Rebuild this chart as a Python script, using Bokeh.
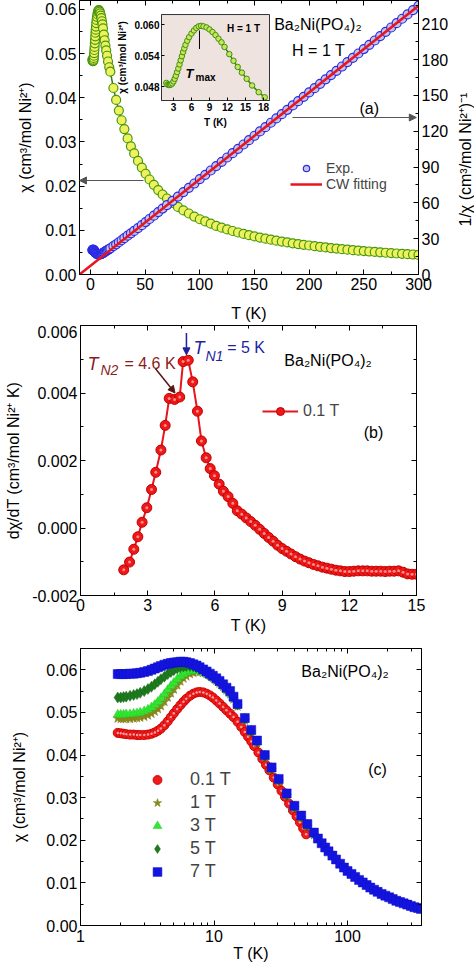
import math
from bokeh.plotting import figure
from bokeh.models import (Range1d, LinearAxis, LogAxis, FixedTicker, Legend, LegendItem,
                          Arrow, NormalHead, Label, CustomJSTickFormatter, BasicTickFormatter,
                          PrintfTickFormatter)
from bokeh.layouts import column, row
from bokeh.embed import file_html
from bokeh.resources import INLINE
from bokeh.core.properties import value

FONT = "Liberation Sans"

# ---------------- panel (a) data ----------------
T_low = [1.8, 2.0, 2.2, 2.4, 2.6, 2.8, 3.0, 3.2, 3.4, 3.6,
         3.8, 4.0, 4.2, 4.4, 4.6, 4.8, 5.0, 5.3, 5.6, 6.0,
         6.4, 6.8, 7.2, 7.6, 8.0, 8.5, 9.0, 9.5, 10.0, 10.5,
         11.0, 11.5, 12.3, 13.0, 13.7, 14.4, 15.2, 16.1, 17.2, 18.2]
chi_low = [0.0487, 0.0484, 0.0483, 0.0483, 0.0484, 0.0486, 0.0490, 0.0495, 0.0501, 0.0508,
           0.0515, 0.0523, 0.0531, 0.0539, 0.0547, 0.0554, 0.0561, 0.0569, 0.0576, 0.0583,
           0.0589, 0.0594, 0.0597, 0.0598, 0.0597, 0.0595, 0.0591, 0.0586, 0.0580, 0.0573,
           0.0566, 0.0557, 0.0543, 0.0530, 0.0518, 0.0507, 0.0495, 0.0482, 0.0469, 0.0459]
inv_low = [20.5, 20.7, 20.7, 20.7, 20.7, 20.6, 20.4, 20.2, 20.0, 19.7,
           19.4, 19.1, 18.8, 18.6, 18.3, 18.1, 17.8, 17.6, 17.4, 17.2,
           17.0, 16.8, 16.8, 16.7, 16.8, 16.8, 16.9, 17.1, 17.2, 17.5,
           17.7, 18.0, 18.4, 18.9, 19.3, 19.7, 20.2, 20.7, 21.3, 21.8]
T_high = [21, 23.5, 26, 28.5, 31, 34, 37, 40, 43.5, 47, 50.5, 54, 58, 62, 66,
          70, 75, 80, 85, 90, 95, 100, 105, 110, 115,
          120, 125, 130, 135, 140, 145, 150, 155, 160, 165,
          170, 175, 180, 185, 190, 195, 200, 205, 210, 215,
          220, 225, 230, 235, 240, 245, 250, 255, 260, 265,
          270, 275, 280, 285, 290, 295, 300]
chi_high = [0.0422, 0.0395, 0.0371, 0.0349, 0.0329, 0.0308, 0.0290, 0.0274, 0.0257, 0.0242,
            0.0228, 0.0215, 0.0203, 0.0191, 0.0181,
            0.0172, 0.0162, 0.0153, 0.0145, 0.0138, 0.0131, 0.0125, 0.0120, 0.0115, 0.0110,
            0.0106, 0.0102, 0.00984, 0.00950, 0.00918, 0.00889, 0.00861, 0.00835, 0.00810, 0.00787,
            0.00765, 0.00745, 0.00725, 0.00706, 0.00689, 0.00672, 0.00656, 0.00641, 0.00626, 0.00612,
            0.00599, 0.00586, 0.00574, 0.00562, 0.00551, 0.00540, 0.00530, 0.00520, 0.00510, 0.00501,
            0.00492, 0.00483, 0.00475, 0.00467, 0.00459, 0.00452, 0.00444]
inv_high = [23.7, 25.3, 27.0, 28.7, 30.4, 32.5, 34.5, 36.5, 38.9, 41.3, 43.9, 46.5, 49.3, 52.3, 55.2,
            58.1, 61.7, 65.3, 69.0, 72.6, 76.2, 79.9, 83.5, 87.1, 90.8,
            94.4, 98.0, 101.6, 105.3, 108.9, 112.5, 116.2, 119.8, 123.4, 127.1,
            130.7, 134.3, 137.9, 141.6, 145.2, 148.8, 152.5, 156.1, 159.7, 163.4,
            167.0, 170.6, 174.2, 177.9, 181.5, 185.1, 188.8, 192.4, 196.0, 199.7,
            203.3, 206.9, 210.5, 214.2, 217.8, 221.4, 225.1]
cw_T = [-10, 300]
cw_inv = [0, 225.1]

a_xticks = [0, 50, 100, 150, 200, 250, 300]
a_xminor = [25, 75, 125, 175, 225, 275]
a_yticks = [0.0, 0.01, 0.02, 0.03, 0.04, 0.05, 0.06]
a_yminor = [0.005, 0.015, 0.025, 0.035, 0.045, 0.055]
a_rticks = [0, 30, 60, 90, 120, 150, 180, 210]
a_rminor = [15, 45, 75, 105, 135, 165, 195, 225]
in_xticks = [3, 6, 9, 12, 15, 18]
in_xminor = [1.5, 4.5, 7.5, 10.5, 13.5, 16.5]
in_yticks = [0.048, 0.054, 0.060]
in_yminor = [0.051, 0.057]
in_x0, in_x1, in_y0, in_y1 = 1.0, 19.0, 0.04528, 0.0620

# ---------------- panel (b) data ----------------
Tb = [1.93, 2.19, 2.38, 2.56, 2.75, 2.96, 3.17, 3.36, 3.59, 3.78,
      3.96, 4.20, 4.43, 4.58, 4.81, 5.01, 5.22, 5.40, 5.61, 5.79,
      5.98, 6.19, 6.38, 6.59, 6.80,
      7.0, 7.2, 7.4, 7.6, 7.8, 8.0, 8.2, 8.4, 8.6, 8.8,
      9.0, 9.2, 9.4, 9.6, 9.8, 10.0, 10.2, 10.4, 10.6, 10.8,
      11.0, 11.2, 11.4, 11.6, 11.8, 12.0, 12.2, 12.4, 12.6, 12.8,
      13.0, 13.2, 13.4, 13.6, 13.8, 14.0, 14.2, 14.4, 14.6, 14.8, 15.0]
dchi = [-0.00124, -0.00101, -0.00063, -0.00026, 0.00017, 0.00060, 0.00114, 0.00165, 0.00231, 0.00304,
        0.00384, 0.00381, 0.00388, 0.00493, 0.00497, 0.00433, 0.00346, 0.00258, 0.00208, 0.00176,
        0.00155, 0.00130, 0.00109, 0.00093, 0.00073,
        0.00051, 0.00041, 0.00030, 0.00019, 0.00008, -0.00004, -0.00016, -0.00028, -0.00039, -0.00051,
        -0.00061, -0.00069, -0.00077, -0.00085, -0.00092, -0.00098, -0.00103, -0.00108, -0.00112, -0.00116,
        -0.00119, -0.00122, -0.00125, -0.00127, -0.00129, -0.00129, -0.00128, -0.00127, -0.00127, -0.00127,
        -0.00128, -0.00128, -0.00128, -0.00129, -0.00128, -0.00128, -0.00127, -0.00131, -0.00136, -0.00137, -0.00137]
b_xticks = [0, 3, 6, 9, 12, 15]
b_xminor = [1.5, 4.5, 7.5, 10.5, 13.5]
b_yticks = [-0.002, 0.0, 0.002, 0.004, 0.006]
b_yminor = [-0.001, 0.001, 0.003, 0.005]

# ---------------- panel (c) data ----------------
Tc_low = [1.9, 2.0, 2.1, 2.2, 2.35, 2.5, 2.65, 2.8, 3.0, 3.2,
          3.4, 3.6, 3.8, 4.0, 4.25, 4.5, 4.75, 5.0, 5.3, 5.6,
          5.9, 6.2, 6.6, 7.0, 7.4, 7.8, 8.3, 8.8, 9.3, 9.8,
          10.4, 11.0, 11.7, 12.4, 13.2]
T01_high = [14, 15, 16, 17, 18, 19, 20, 21.5, 23, 24.5, 26, 28, 30, 32, 34, 36.5, 39, 41.5, 44, 46.5, 49]
T_mid = [14, 15, 17, 19, 21, 24, 27, 30.5, 35, 40, 45, 50, 56]
T7_high = [14, 15, 17, 19, 21, 24, 27, 30.5, 35, 40,
           45, 50, 56, 60, 64, 68, 72, 77, 82, 88,
           94, 100, 107, 114, 122, 130, 139, 148, 158, 168,
           180, 192, 205, 218, 232, 247, 263, 280, 298, 317,
           337, 355]
c01_low = [0.0452, 0.0451, 0.0450, 0.0449, 0.0448, 0.0448, 0.0447, 0.0447, 0.0447, 0.0448,
           0.0450, 0.0453, 0.0457, 0.0462, 0.0470, 0.0479, 0.0489, 0.0498, 0.0508, 0.0517,
           0.0525, 0.0532, 0.0539, 0.0544, 0.0547, 0.0548, 0.0547, 0.0544, 0.0540, 0.0535,
           0.0528, 0.0521, 0.0513, 0.0505, 0.0497]
c01_high = [0.0489, 0.0478, 0.0466, 0.0454, 0.0443, 0.0432, 0.0421, 0.0406, 0.0391, 0.0377,
            0.0364, 0.0347, 0.0331, 0.0316, 0.0302, 0.0286, 0.0270, 0.0256, 0.0242, 0.0228, 0.0214]
c1_low = [0.0486, 0.0485, 0.0485, 0.0485, 0.0485, 0.0486, 0.0487, 0.0488, 0.0490, 0.0493,
          0.0497, 0.0502, 0.0508, 0.0515, 0.0525, 0.0535, 0.0545, 0.0554, 0.0564, 0.0573,
          0.0580, 0.0585, 0.0590, 0.0593, 0.0595, 0.0595, 0.0593, 0.0590, 0.0586, 0.0581,
          0.0575, 0.0568, 0.0560, 0.0552, 0.0543]
c1_high = [0.0531, 0.0514, 0.0481, 0.0453, 0.0428, 0.0394, 0.0365, 0.0338, 0.0304, 0.0275, 0.0252, 0.0232, 0.0212]
c3_low = [0.0495, 0.0495, 0.0495, 0.0496, 0.0496, 0.0497, 0.0498, 0.0500, 0.0503, 0.0507,
          0.0512, 0.0518, 0.0525, 0.0533, 0.0543, 0.0553, 0.0562, 0.0570, 0.0578, 0.0585,
          0.0590, 0.0594, 0.0597, 0.0598, 0.0598, 0.0597, 0.0594, 0.0590, 0.0586, 0.0581,
          0.0575, 0.0569, 0.0561, 0.0553, 0.0544]
c3_high = [0.0533, 0.0516, 0.0483, 0.0455, 0.0430, 0.0396, 0.0367, 0.0340, 0.0306, 0.0277, 0.0254, 0.0234, 0.0214]
c5_low = [0.0535, 0.0535, 0.0536, 0.0537, 0.0539, 0.0541, 0.0543, 0.0546, 0.0550, 0.0555,
          0.0560, 0.0566, 0.0572, 0.0578, 0.0584, 0.0590, 0.0595, 0.0599, 0.0603, 0.0606,
          0.0608, 0.0609, 0.0609, 0.0608, 0.0606, 0.0603, 0.0599, 0.0594, 0.0590, 0.0585,
          0.0579, 0.0573, 0.0565, 0.0557, 0.0548]
c5_high = [0.0535, 0.0518, 0.0485, 0.0457, 0.0432, 0.0398, 0.0369, 0.0342, 0.0308, 0.0279, 0.0256, 0.0236, 0.0216]
c7_low = [0.0590, 0.0590, 0.0590, 0.0590, 0.0591, 0.0591, 0.0592, 0.0593, 0.0595, 0.0597,
          0.0600, 0.0603, 0.0606, 0.0609, 0.0612, 0.0614, 0.0616, 0.0617, 0.0618, 0.0619,
          0.0619, 0.0618, 0.0616, 0.0613, 0.0610, 0.0606, 0.0601, 0.0596, 0.0591, 0.0586,
          0.0580, 0.0574, 0.0566, 0.0558, 0.0550]
c7_high = [0.0537, 0.0520, 0.0487, 0.0459, 0.0434, 0.0400, 0.0371, 0.0344, 0.0310, 0.0281,
           0.0258, 0.0238, 0.0218, 0.0204, 0.0193, 0.0183, 0.0174, 0.0164, 0.0155, 0.0145,
           0.0136, 0.0128, 0.0121, 0.0114, 0.0107, 0.0101, 0.0095, 0.0089, 0.0084, 0.0079,
           0.0074, 0.0070, 0.0066, 0.0062, 0.0058, 0.0055, 0.0052, 0.0049, 0.0046, 0.0043,
           0.0041, 0.0039]
c_xticks = [1, 10, 100]
c_xminor = [2, 3, 4, 5, 6, 7, 8, 9, 20, 30, 40, 50, 60, 70, 80, 90, 200, 300]
c_yticks = [0.0, 0.01, 0.02, 0.03, 0.04, 0.05, 0.06]
c_yminor = [0.005, 0.015, 0.025, 0.035, 0.045, 0.055]


# ---------------- helpers ----------------
def style_axis(ax):
    ax.major_label_text_font = FONT
    ax.major_label_text_font_size = "16px"
    ax.major_label_text_color = "black"
    ax.axis_label_text_font = FONT
    ax.axis_label_text_font_size = "16px"
    ax.axis_label_text_font_style = "normal"
    ax.axis_label_text_color = "black"
    ax.axis_line_color = "black"
    ax.major_tick_line_color = "black"
    ax.minor_tick_line_color = "black"
    ax.major_tick_in = 5
    ax.major_tick_out = 0
    ax.minor_tick_in = 3
    ax.minor_tick_out = 0
    ax.major_label_standoff = 4
    ax.axis_label_standoff = 4


def style_inset(ax):
    style_axis(ax)
    ax.major_label_text_font_size = "10px"
    ax.major_label_text_font_style = "bold"
    ax.axis_label_text_font_size = "10px"
    ax.axis_label_text_font_style = "bold"
    ax.major_tick_in = 3
    ax.minor_tick_in = 0
    ax.major_label_standoff = 2
    ax.axis_label_standoff = 3
    ax.axis_line_color = "#333333"


def blank_axis(p, side, ticker, log=False, **kw):
    cls = LogAxis if log else LinearAxis
    ax = cls(ticker=ticker, formatter=CustomJSTickFormatter(code="return ''"), **kw)
    style_axis(ax)
    ax.major_label_text_font_size = "0px"
    ax.major_label_standoff = 0
    p.add_layout(ax, side)
    return ax


def base_fig(**kw):
    p = figure(output_backend="svg", toolbar_location=None, **kw)
    p.grid.visible = False
    p.outline_line_color = "black"
    p.outline_line_width = 1
    p.background_fill_color = "white"
    p.border_fill_color = "white"
    return p


def add_label(p, x, y, text, size="16px", color="black", style="normal",
              align="center", baseline="middle", **kw):
    p.add_layout(Label(x=x, y=y, text=text, text_font=FONT, text_font_size=size,
                       text_color=color, text_font_style=style, text_align=align,
                       text_baseline=baseline, **kw))


# ================= panel (a) =================
A_BOTTOM = 51
pa = base_fig(frame_width=339, frame_height=274, x_range=Range1d(-10, 300), y_range=Range1d(0, 0.0620),
              min_border_left=79, min_border_right=38, min_border_top=0, min_border_bottom=A_BOTTOM,
              x_axis_label="T (K)", y_axis_label="χ (cm³/mol Ni²⁺)")
inv_range = Range1d(0, 229.5)
pa.extra_y_ranges = {"inv": inv_range, "iy": Range1d(0.01144, 0.06473)}
pa.extra_x_ranges = {"ix": Range1d(-12.667, 43.833)}
ax_ab = pa.below[0]
ax_al = pa.left[0]
ax_ab.ticker = FixedTicker(ticks=a_xticks, minor_ticks=a_xminor)
ax_al.ticker = FixedTicker(ticks=a_yticks, minor_ticks=a_yminor)
ax_al.formatter = PrintfTickFormatter(format="%.2f")
style_axis(ax_ab)
style_axis(ax_al)
ax_al.major_label_standoff = 3
ax_al.axis_label_standoff = 8
ax_ab.major_label_standoff = 3
ax_ab.axis_label_standoff = 12

ax_ar = LinearAxis(y_range_name="inv", ticker=FixedTicker(ticks=a_rticks, minor_ticks=a_rminor))
style_axis(ax_ar)
ax_ar.major_label_standoff = 3
pa.add_layout(ax_ar, "right")
blank_axis(pa, "above", FixedTicker(ticks=a_xticks, minor_ticks=a_xminor))

T_all = T_low + T_high
chi_all = chi_low + chi_high
inv_all = inv_low + inv_high

pa.line(T_all, chi_all, line_color="#2f7f16", line_width=1.5)
pa.scatter(T_all, chi_all, size=9, fill_color="#eef25c", line_color="#4a9612", line_width=1.2)
r_exp = pa.scatter(T_all, inv_all, y_range_name="inv", size=9, fill_color="#c4c3e4",
                   line_color="#2a2ae6", line_width=1.2)
r_cw = pa.line(cw_T, cw_inv, y_range_name="inv", line_color="#e8141e", line_width=2.5)

leg_a = Legend(items=[LegendItem(label="Exp.", renderers=[r_exp]),
                      LegendItem(label="CW fitting", renderers=[r_cw])],
               location=(211, 82), glyph_width=32, glyph_height=16, label_height=16,
               spacing=0, padding=0, margin=0, label_standoff=4,
               label_text_font=FONT, label_text_font_size="14px",
               border_line_color=None, background_fill_alpha=0)
pa.add_layout(leg_a)

add_label(pa, 208, 0.0566, "Ba₂Ni(PO₄)₂")
add_label(pa, 208.6, 0.0507, "H = 1 T")
add_label(pa, 255, 0.0376, "(a)")

pa.add_layout(Arrow(x_start=48.5, y_start=0.02127, x_end=-10, y_end=0.02127,
                    line_color="#555555", line_width=1.2,
                    end=NormalHead(size=7, fill_color="#555555", line_color="#555555")))
pa.add_layout(Arrow(x_start=184.8, y_start=131.5, x_end=298, y_end=131.5, y_range_name="inv",
                    line_color="#555555", line_width=1.2,
                    end=NormalHead(size=7, fill_color="#555555", line_color="#555555")))

# inset
pa.quad(left=[in_x0], right=[in_x1], bottom=[in_y0], top=[in_y1], x_range_name="ix", y_range_name="iy",
        fill_color="#efe3df", line_color="#333333", line_width=1)
pa.line(T_low, chi_low, x_range_name="ix", y_range_name="iy", line_color="#2f7f16", line_width=1.5)
pa.scatter(T_low, chi_low, x_range_name="ix", y_range_name="iy", size=5.5,
           fill_color="#c9e55a", line_color="#3f8f12", line_width=1)
iax_y = LinearAxis(x_range_name="ix", y_range_name="iy", fixed_location=in_x0, bounds=(in_y0, in_y1),
                   ticker=FixedTicker(ticks=in_yticks, minor_ticks=in_yminor),
                   formatter=PrintfTickFormatter(format="%.3f"),
                   axis_label="χ (cm³/mol Ni²⁺)")
style_inset(iax_y)
pa.add_layout(iax_y, "left")
iax_x = LinearAxis(x_range_name="ix", y_range_name="iy", fixed_location=in_y0, bounds=(in_x0, in_x1),
                   ticker=FixedTicker(ticks=in_xticks, minor_ticks=in_xminor), axis_label="T (K)")
style_inset(iax_x)
pa.add_layout(iax_x, "below")
add_label(pa, 14.67, 0.05934, "H = 1 T", size="10px", style="bold", x_range_name="ix", y_range_name="iy")
add_label(pa, 5.0, 0.05047, "T", size="13px", style="bold italic", align="left", baseline="alphabetic",
          x_range_name="ix", y_range_name="iy")
add_label(pa, 6.67, 0.04981, "max", size="10px", style="bold", align="left", baseline="alphabetic",
          x_range_name="ix", y_range_name="iy")
pa.add_layout(Arrow(x_start=7.33, y_start=0.0553, x_end=7.33, y_end=0.0589, end=None,
                    x_range_name="ix", y_range_name="iy", line_color="black", line_width=1))

# right-hand axis title of panel (a), reading bottom-to-top, in a narrow strip
lab = figure(output_backend="svg", toolbar_location=None, frame_width=18, frame_height=274,
             x_range=Range1d(0, 1), y_range=inv_range, x_axis_location=None, y_axis_location=None,
             min_border_left=0, min_border_right=0, min_border_top=0, min_border_bottom=A_BOTTOM)
lab.grid.visible = False
lab.outline_line_color = None
lab.text(x=[0.5], y=[96.3], text=["1/χ (cm³/mol Ni²⁺)⁻¹"], angle=math.pi / 2,
         text_align="center", text_baseline="middle", text_font=value(FONT),
         text_font_size="16px", text_color="black")

# ================= panel (b) =================
pb = base_fig(frame_width=336, frame_height=270, x_range=Range1d(0, 15), y_range=Range1d(-0.002, 0.006),
              min_border_left=80, min_border_right=50, min_border_top=0, min_border_bottom=42,
              x_axis_label="T (K)", y_axis_label="dχ/dT (cm³/mol Ni²⁺ K)")
ax_bb = pb.below[0]
ax_bl = pb.left[0]
ax_bb.ticker = FixedTicker(ticks=b_xticks, minor_ticks=b_xminor)
ax_bl.ticker = FixedTicker(ticks=b_yticks, minor_ticks=b_yminor)
ax_bl.formatter = PrintfTickFormatter(format="%.3f")
style_axis(ax_bb)
style_axis(ax_bl)
ax_bl.major_label_standoff = 3
ax_bl.axis_label_standoff = 7
ax_bb.major_label_standoff = 3
ax_bb.axis_label_standoff = 3
blank_axis(pb, "above", FixedTicker(ticks=b_xticks, minor_ticks=b_xminor))
blank_axis(pb, "right", FixedTicker(ticks=b_yticks, minor_ticks=b_yminor))

rb_line = pb.line(Tb, dchi, line_color="#e8141e", line_width=2)
rb_pts = pb.scatter(Tb, dchi, size=10, fill_color="#ee1818", line_color="#c00000", line_width=1)
pb.scatter(Tb, dchi, size=3, fill_color="#ff9a9a", line_color=None, fill_alpha=0.9)
leg_b = Legend(items=[LegendItem(label="0.1 T", renderers=[rb_line, rb_pts])],
               location=(182, 174), glyph_width=36, glyph_height=20, label_height=20,
               spacing=0, padding=0, margin=0, label_standoff=5,
               label_text_font=FONT, label_text_font_size="16px",
               border_line_color=None, background_fill_alpha=0)
pb.add_layout(leg_b)
add_label(pb, 11.05, 0.00496, "Ba₂Ni(PO₄)₂")
add_label(pb, 13.08, 0.00283, "(b)")

TN2_C = "#8b1c1c"
TN1_C = "#1f1f9f"
add_label(pb, 0.31, 0.004865, "T", size="18px", color=TN2_C, style="italic", align="left", baseline="alphabetic")
add_label(pb, 0.89, 0.004667, "N2", size="14px", color=TN2_C, style="italic", align="left", baseline="alphabetic")
add_label(pb, 1.96, 0.004865, "= 4.6 K", size="16px", color=TN2_C, align="left", baseline="alphabetic")
add_label(pb, 5.05, 0.005348, "T", size="18px", color=TN1_C, style="italic", align="left", baseline="alphabetic")
add_label(pb, 5.58, 0.005111, "N1", size="14px", color=TN1_C, style="italic", align="left", baseline="alphabetic")
add_label(pb, 6.55, 0.005348, "= 5 K", size="16px", color=TN1_C, align="left", baseline="alphabetic")
pb.add_layout(Arrow(x_start=3.35, y_start=0.00472, x_end=4.22, y_end=0.00400, line_color="#5a1414",
                    line_width=1.5, end=NormalHead(size=7, fill_color="#5a1414", line_color="#5a1414")))
pb.add_layout(Arrow(x_start=4.73, y_start=0.00578, x_end=4.73, y_end=0.00513, line_color=TN1_C,
                    line_width=1.5, end=NormalHead(size=7, fill_color=TN1_C, line_color=TN1_C)))

# ================= panel (c) =================
pc = base_fig(frame_width=341, frame_height=277, x_axis_type="log", x_range=Range1d(1, 358),
              y_range=Range1d(0, 0.065),
              min_border_left=78, min_border_right=47, min_border_top=11, min_border_bottom=40,
              x_axis_label="T (K)", y_axis_label="χ (cm³/mol Ni²⁺)")
ax_cb = pc.below[0]
ax_cl = pc.left[0]
ax_cb.ticker = FixedTicker(ticks=c_xticks, minor_ticks=c_xminor)
ax_cb.formatter = BasicTickFormatter()
ax_cl.ticker = FixedTicker(ticks=c_yticks, minor_ticks=c_yminor)
ax_cl.formatter = PrintfTickFormatter(format="%.2f")
style_axis(ax_cb)
style_axis(ax_cl)
ax_cl.major_label_standoff = 3
ax_cl.axis_label_standoff = 15
ax_cb.major_label_standoff = 4
ax_cb.axis_label_standoff = 0
blank_axis(pc, "above", FixedTicker(ticks=c_xticks, minor_ticks=c_xminor), log=True)
blank_axis(pc, "right", FixedTicker(ticks=c_yticks, minor_ticks=c_yminor))

r01 = pc.scatter(Tc_low + T01_high, c01_low + c01_high, marker="circle", size=9,
                 fill_color="#ee1c1c", line_color="#d00000", line_width=1)
pc.scatter(Tc_low + T01_high, c01_low + c01_high, marker="circle", size=2.5,
           fill_color="white", line_color=None, fill_alpha=0.6)
r1 = pc.scatter(Tc_low + T_mid, c1_low + c1_high, marker="star", size=10,
                fill_color="#8a8a1e", line_color="#7a7a14", line_width=0.5)
r3 = pc.scatter(Tc_low + T_mid, c3_low + c3_high, marker="triangle", size=9,
                fill_color="#33e633", line_color="#22cc22", line_width=0.5)
r5 = pc.scatter(Tc_low + T_mid, c5_low + c5_high, marker="diamond", size=11,
                fill_color="#1d7a1d", line_color="#176617", line_width=0.5)
r7 = pc.scatter(Tc_low + T7_high, c7_low + c7_high, marker="square", size=9,
                fill_color="#1414e0", line_color="#1010c8", line_width=0.5)
leg_c = Legend(items=[LegendItem(label="0.1 T", renderers=[r01]),
                      LegendItem(label="1 T", renderers=[r1]),
                      LegendItem(label="3 T", renderers=[r3]),
                      LegendItem(label="5 T", renderers=[r5]),
                      LegendItem(label="7 T", renderers=[r7])],
               location=(66, 42), glyph_width=22, glyph_height=23, label_height=23,
               spacing=0, padding=0, margin=0, label_standoff=22,
               label_text_font=FONT, label_text_font_size="18px",
               border_line_color=None, background_fill_alpha=0)
pc.add_layout(leg_c)
add_label(pc, 95.8, 0.0596, "Ba₂Ni(PO₄)₂")
add_label(pc, 167.8, 0.0365, "(c)")

layout = column(row(pa, lab), pb, pc)
open("out.html", "w").write(file_html(layout, INLINE))
